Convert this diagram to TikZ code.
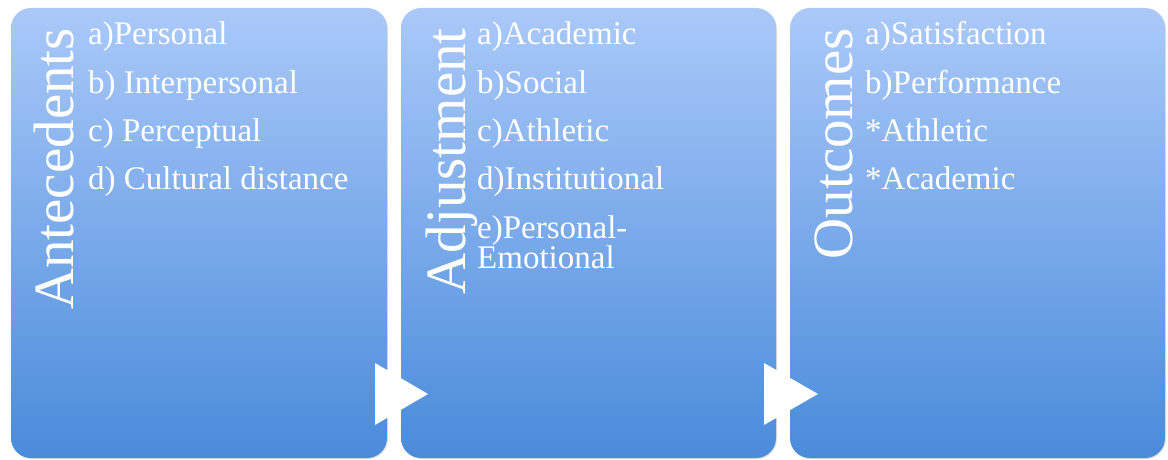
\documentclass[tikz,border=0pt]{standalone}
\usepackage{fontspec}
\setmainfont{Liberation Serif}
\usetikzlibrary{positioning, shadows}
\definecolor{boxtop}{RGB}{170, 201, 249}
\definecolor{boxbot}{RGB}{74, 139, 218}

\tikzset{
 stagebox/.style={rounded corners=20pt, top color=boxtop, bottom color=boxbot,
   drop shadow={shadow xshift=1pt, shadow yshift=-1pt, opacity=0.25}},
 stagetitle/.style={rotate=90, anchor=base east, text=white, font=\fontsize{57}{60}\selectfont, inner sep=0pt},
 itemtext/.style={anchor=base west, text=white, align=left, inner sep=0pt,
   font=\fontsize{33}{30}\selectfont},
 arrowhead/.style={fill=white, draw=none}
}

\begin{document}
\begin{tikzpicture}[x=1pt, y=-1pt]

 \useasboundingbox (0,0) rectangle (1168,460);

 % the three stages
 \path[stagebox] (11,8) rectangle (387,458);
 \path[stagebox] (401,8) rectangle (776,458);
 \path[stagebox] (790,8) rectangle (1165,458);

 \node[stagetitle] (AnteTitle) at (73,28) {Antecedents};
 \node[stagetitle] (AdjTitle) at (465,28) {Adjustment};
 \node[stagetitle] (OutTitle) at (852,28) {Outcomes};

 \foreach \txt [count=\i from 0] in {a)Personal, b) Interpersonal, c) Perceptual, d) Cultural distance}
   \node[itemtext] (ante\i) at (88, 45+48.3*\i) {\txt};

 \foreach \txt [count=\i from 0] in {a)Academic, b)Social, c)Athletic, d)Institutional}
   \node[itemtext] (adj\i) at (477, 45+48.3*\i) {\txt};
 % base of a two-line node is its last line
 \node[itemtext] (adj4) at (477, 268) {e)Personal-\\Emotional};

 \foreach \txt [count=\i from 0] in {a)Satisfaction, b)Performance, *Athletic, *Academic}
   \node[itemtext] (out\i) at (865, 45+48.3*\i) {\txt};

 % arrows between the stages
 \coordinate (T1a) at (375,363);
 \coordinate (T1b) at (428,394);
 \coordinate (T1c) at (375,425);
 \coordinate (T2a) at (764,363);
 \coordinate (T2b) at (818,394);
 \coordinate (T2c) at (764,425);

 \fill[arrowhead] (T1a) -- (T1b) -- (T1c) -- cycle;
 \fill[arrowhead] (T2a) -- (T2b) -- (T2c) -- cycle;

\end{tikzpicture}
\end{document}
